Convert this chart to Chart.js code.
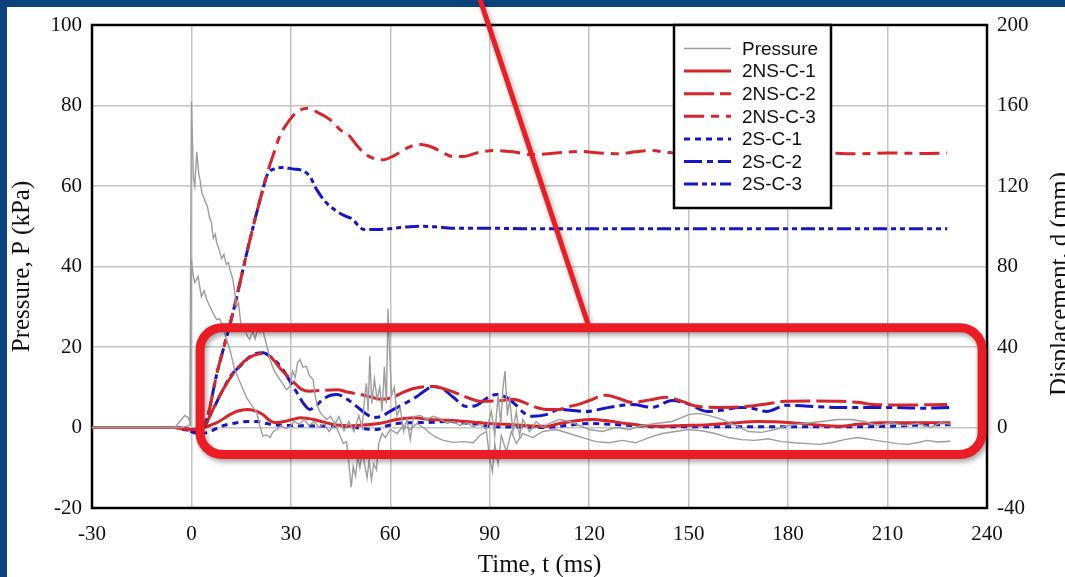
<!DOCTYPE html>
<html>
<head>
<meta charset="utf-8">
<script src="https://cdn.jsdelivr.net/npm/chart.js@4.4.1/dist/chart.umd.min.js"></script>
<style>
  html, body { margin: 0; padding: 0; background: #0a437b; overflow: hidden; }
  canvas { display: block; }
</style>
</head>
<body>
<canvas id="chart" width="1065" height="577"></canvas>
<script>
// time (ms), pressure (kPa) - two gauge traces
const pressureA = [[-30,0],[-10,0],[-3,0],[-0.5,0.5],[0,81],[0.6,62],[1,60],[1.6,68.5],[2.2,63],[2.6,61.5],[3.2,58],[3.6,57.5],[4.2,56],[4.8,55],[5.5,52],[6,51],[6.6,47],[7.2,48],[7.6,46],[8.4,44],[9.1,42],[9.8,43],[10.5,40.5],[11.2,41],[11.6,39.3],[12.5,36.8],[13,34],[13.6,30],[14.2,31],[15,25],[16,24.5],[17,22.5],[17.6,21.9],[18.5,24],[19.2,22],[20,24.5],[20.7,23.6],[21.4,25],[22,22.6],[23,19.5],[23.7,16.9],[25,14],[26.7,11.9],[27.8,10.5],[28.7,9.4],[29.7,10.2],[30.5,14],[31.3,12.5],[32,16],[32.7,16.9],[33.6,15],[34.7,15.2],[35.5,13],[36.7,11.9],[37.3,8],[38,5.3],[39,3.5],[40.8,2],[42,2.8],[43.5,0.5],[44.8,-2],[45.8,-4],[46.8,-3.5],[47.5,-9],[48.2,-14.8],[48.8,-9.7],[49.5,-12],[50.2,-7],[50.8,-10],[51.5,-6],[52.2,-9],[53,-12.5],[53.6,-8],[54.3,-13],[55,-9],[55.8,-10.5],[56.5,-4],[57.5,-1.5],[58.5,-2.5],[60,-0.5],[62,-1.5],[64,0.5],[66,-0.5],[68,1],[70,0],[72,-1.5],[74,-2.5],[76,-3.2],[79,-3.7],[82,-3.5],[85,-3.8],[87,-2],[89,-1],[90,-8],[90.8,-11],[91.5,-4],[92.5,-9],[93.5,-2],[95,-6],[96.5,-1],[98,-4],[100,-1.5],[103,-2.5],[106,-1],[110,-0.5],[114,-1.5],[118,-2.5],[122,-3.5],[126,-3.8],[130,-3.2],[134,-3.8],[138,-2.5],[142,-1.5],[146,-1],[150,-0.5],[154,-0.8],[158,-1.5],[162,-2.5],[166,-3],[170,-3.2],[174,-2.8],[178,-3.5],[182,-3.8],[186,-4],[189.6,-4.2],[193,-3.8],[197,-3],[201,-2.5],[205,-3],[209,-3.5],[213,-4],[216,-4.2],[219,-3.8],[222,-3.2],[225,-3.6],[229,-3.4]];
const pressureB = [[-30,0],[-5,0],[-3,2],[-2,3],[-1,2.5],[-0.3,1],[0,41.7],[0.5,38],[1,36],[2,37.5],[3,32.5],[3.8,34],[4.6,31.8],[5.3,30.5],[6,29.3],[6.8,28],[7.6,26.8],[8.5,27],[9.5,25.1],[10.5,22],[11.6,19.4],[12.3,17],[13,14.4],[14,12.5],[14.8,11],[15.6,9.4],[16.6,7.5],[17.6,6.2],[18.6,5],[19.7,3.7],[20.6,0.5],[21.6,-2.2],[22.6,-1.8],[23.7,-2.5],[24.7,-1],[25.8,-0.5],[27,0.5],[28.5,-0.3],[29.7,0.2],[31,1.5],[32.5,0.8],[34,2],[35.5,0.5],[37,1.5],[38.5,0],[40,1],[41.5,-1],[43,0.5],[44.5,2.7],[46,-0.8],[47.5,1.5],[49,-1],[50.5,3],[51.5,0],[52.3,8],[52.8,11],[53.3,4],[53.8,17.7],[54.4,6],[55.2,12],[56,7],[56.8,10],[57.5,4],[58.2,15],[58.8,6],[59.3,29.5],[59.8,18],[60.4,8],[61.2,10],[62,3],[63,5],[64,-1],[65,2],[66,-3],[67,2.7],[69,3],[71,2],[73,2.8],[75,2.2],[77,1],[79,1.5],[81,0.5],[83,1.2],[85,0.2],[87,0.8],[89,-0.5],[90.5,4],[91.5,-2],[92.5,8],[93.3,1],[94,10],[94.6,14],[95.3,3],[96,7],[97,-1],[98,4],[99,-2],[100,2],[102,-1],[104,1.5],[106,0],[108,1],[111,2],[114,1.5],[117,0.5],[120,-0.5],[124,-1],[128,0],[132,-0.5],[136,0.5],[140,1],[145,1.5],[150,3.2],[153,3.5],[156,3],[160,2],[164,0.5],[168,-1],[172,-1.2],[176,-0.5],[180,0.5],[185,1],[190,1.5],[195,2],[199,2],[203,1.5],[207,0.5],[211,1.2],[215,0.5],[219,1],[223,0],[226,1.2],[229,0.8]];

// time (ms), displacement (mm)
const nsc1 = [[-30,0],[-15,0],[-5,0],[0,-1],[3.5,0],[7.7,2.4],[11.6,6.4],[14,8.2],[16.7,9],[19,8.4],[21.6,6.4],[23.5,3.6],[25.5,2.4],[28,3],[30.5,4],[33,4.8],[36.7,4],[40,2.6],[44,1.2],[47.8,0.8],[52,1.2],[57.8,2.4],[62,4],[67,4.8],[72,4],[77,3.6],[83,3],[90,2],[97,1.4],[103,0.8],[107,0.6],[111,2],[116,3.4],[121,4],[126,3.2],[131,2],[136,1],[141,0.6],[148,1],[156,1.4],[163,2.2],[171,3],[176,2.8],[181,2.4],[188,1.4],[195.6,0.6],[201,1.6],[208,2.4],[218,2.4],[229,2.4]];
const nsc2 = [[-30,0],[-15,0],[-5,0],[0,-1],[3.5,0],[6.5,9],[9.5,18.8],[13,27.6],[16,33],[19,36],[21.5,36.8],[24,34.8],[27,29],[30.7,22.8],[33,19.2],[35.7,18],[39,18.4],[44,18.8],[47,17.6],[51,16.4],[54,15.2],[57.5,14],[61,15.2],[64,17.6],[67,19.4],[73,20.4],[77,18.8],[81,16.4],[84,14.4],[87,13],[92,13.2],[97,14],[101,12],[104,10],[107,9],[111,9],[114,10.4],[117,11.6],[120,13.4],[125,16],[129,14.4],[133,12.4],[138,13.6],[143,15],[148,13],[153,10.4],[160,10],[167,10.4],[173,11.6],[179,13],[187,13.2],[195.6,13],[201.6,12.4],[205.5,11.4],[215,11.2],[228,11.4]];
const nsc3 = [[-30,0],[-15,0],[-5,0],[0,-1],[3.5,0],[8,29],[12.5,57],[17.6,93],[21,115],[23,127],[25,137],[26.7,145],[29.7,153],[32,157],[35,158.6],[38,156.6],[41.8,153],[44.8,148],[47.8,144.6],[50,140],[51.7,137],[54.5,134],[57.8,133],[61,135],[66,139.6],[69,140.6],[73,139],[76,136.4],[79,134.6],[82,134.6],[86,136.4],[91,137.6],[97,137],[103,135.6],[110,136.4],[117,137.2],[123,136.4],[129,136],[134,137],[139,137.6],[144,136.6],[150,136.4],[160,136.6],[170,136.2],[180,136.8],[190,136.6],[200,136],[210,136.4],[220,136.2],[228,136.4]];
const sc1 = [[-30,0],[-15,0],[-5,0],[-1,-1.5],[2,-3],[5,-2.4],[9,0.6],[13.7,2.4],[17,3],[19.7,3],[22,2.2],[24.6,1.4],[30,1],[37.8,0.8],[42,0.8],[47.8,0.4],[52,-0.6],[56,-1],[58.5,0.6],[62,2],[67,2.4],[73,2.6],[77,3],[82,2.4],[86,1.6],[91,0.4],[99,0.2],[107,0],[113,1],[120,2],[126,1.6],[133,1],[141,0.4],[151,0.4],[161,0.4],[171,0.4],[181,0.4],[191,0.4],[201,0.4],[210,0.6],[220,1.2],[229,1.4]];
const sc2 = [[-30,0],[-15,0],[-5,0],[0,-1.5],[3.5,0],[6.5,9],[9.5,18.8],[12,26],[14.6,30.4],[17.5,35],[19.5,36.8],[21.6,37.2],[24,35],[27.6,28.8],[29.7,23],[31.8,17.4],[33.8,12],[35.7,9],[37.7,11],[39.7,14],[42,16],[43.9,16.4],[47,14],[49.9,10.4],[52.5,7],[54.8,5],[57.5,5.6],[59.9,8],[64,11.6],[68,15.4],[70.5,18.4],[72.9,20.4],[76,19],[79,15],[83,10.4],[86,11],[89,14.4],[92,16.4],[95,15],[98,11],[100.5,7],[103,5.6],[107,6.4],[111,9],[115,8.4],[119,8],[126,10],[133,11.4],[139,10],[145,13.4],[150,11.6],[155.5,8],[160,8.6],[165.5,10],[169,9.6],[173.5,8],[179.5,11],[186,10.6],[194,10],[201.6,10],[210,10],[220,9.6],[229,10]];
const sc3 = [[-30,0],[-15,0],[-5,0],[0,-1.5],[3.5,0],[8,29],[12.5,57],[17.6,93],[21,115],[23,126],[25,128.5],[27.6,129.2],[30.5,128.5],[33.6,127.6],[35.7,124.8],[37.8,118.2],[40.5,112],[43.9,107.4],[46.5,105],[48.7,103.4],[50.5,100],[52,98.4],[55,98.4],[59,98.6],[63,99.4],[66,99.8],[70,100],[75,99.5],[80,99],[90,99],[100,98.8],[120,98.8],[140,98.8],[160,98.8],[180,98.8],[200,98.8],[228,98.8]];

const timeTicks = [-30, 0, 30, 60, 90, 120, 150, 180, 210, 240];
const pressureTicks = [-20, 0, 20, 40, 60, 80, 100];
const dispTicks = [-40, 0, 40, 80, 120, 160, 200];

// highlight box and pointer, in data units (ms, kPa)
const boxRange = { t0: 2.6, t1: 238.5, p0: -6.7, p1: 24.8 };
const pointerFrom = { t: 87, p: 106.5 };

const RED = "#d7262b";
const BLUE = "#1616c8";
const GREY = "#9d9d9d";
const serif = "'Liberation Serif', 'Times New Roman', serif";
const sans = "'Liberation Sans', Arial, sans-serif";

const toXY = a => a.map(([x, y]) => ({ x: x, y: y }));

function lineSet(label, arr, color, dash, axis, width) {
    return {
        label: label,
        data: toXY(arr),
        borderColor: color,
        borderWidth: width,
        borderDash: dash,
        yAxisID: axis,
        pointRadius: 0,
        fill: false,
        cubicInterpolationMode: axis === "y1" ? "monotone" : "default",
        tension: 0
    };
}

const datasets = [
    lineSet("Pressure", pressureA, GREY, [], "y", 1.4),
    Object.assign(lineSet("Pressure", pressureB, GREY, [], "y", 1.4), { hideInLegend: true }),
    lineSet("2NS-C-1", nsc1, RED, [], "y1", 3),
    lineSet("2NS-C-2", nsc2, RED, [30, 6], "y1", 3),
    lineSet("2NS-C-3", nsc3, RED, [20, 7, 8, 7], "y1", 3),
    lineSet("2S-C-1", sc1, BLUE, [6, 5], "y1", 3),
    lineSet("2S-C-2", sc2, BLUE, [18, 5, 6, 5], "y1", 3),
    lineSet("2S-C-3", sc3, BLUE, [14, 4, 5, 4, 5, 4], "y1", 3)
];

const decor = {
    id: "decor",
    beforeDraw(chart) {
        const ctx = chart.ctx;
        ctx.save();
        ctx.fillStyle = "#0a437b";
        ctx.fillRect(0, 0, chart.width, chart.height);
        ctx.fillStyle = "#ffffff";
        ctx.fillRect(7, 7, chart.width - 7, chart.height - 7);
        ctx.restore();
    },
    beforeDatasetsDraw(chart) {
        const a = chart.chartArea;
        const ctx = chart.ctx;
        ctx.save();
        ctx.strokeStyle = "#000";
        ctx.lineWidth = 2.5;
        ctx.strokeRect(a.left, a.top, a.right - a.left, a.bottom - a.top);
        ctx.restore();
    },
    afterDraw(chart) {
        const ctx = chart.ctx;
        const sx = chart.scales.x, sy = chart.scales.y;

        // legend
        const lx = 674, ly = 25, lw = 157, lh = 183;
        ctx.save();
        ctx.fillStyle = "#fff";
        ctx.fillRect(lx, ly, lw, lh);
        ctx.strokeStyle = "#000";
        ctx.lineWidth = 2.5;
        ctx.strokeRect(lx, ly, lw, lh);
        ctx.font = "19px " + sans;
        ctx.textBaseline = "middle";
        let row = 0;
        chart.data.datasets.forEach(ds => {
            if (ds.hideInLegend) return;
            const y = 48.5 + row * 22.6;
            ctx.beginPath();
            ctx.strokeStyle = ds.borderColor;
            ctx.lineWidth = ds.borderWidth;
            ctx.setLineDash(ds.borderDash);
            ctx.moveTo(684, y);
            ctx.lineTo(731, y);
            ctx.stroke();
            ctx.setLineDash([]);
            ctx.fillStyle = "#111";
            ctx.fillText(ds.label, 742, y + 1);
            row++;
        });
        ctx.restore();

        // right axis title (cut by the page edge, as in the source figure)
        ctx.save();
        ctx.translate(1060, 284);
        ctx.rotate(-Math.PI / 2);
        ctx.font = "25px " + serif;
        ctx.fillStyle = "#111";
        ctx.textAlign = "center";
        ctx.textBaseline = "middle";
        ctx.fillText("Displacement, d (mm)", 0, 0);
        ctx.restore();

        // highlight box + pointer
        const bx0 = sx.getPixelForValue(boxRange.t0), bx1 = sx.getPixelForValue(boxRange.t1);
        const by0 = sy.getPixelForValue(boxRange.p1), by1 = sy.getPixelForValue(boxRange.p0);
        ctx.save();
        ctx.strokeStyle = "#ec1c24";
        ctx.shadowColor = "rgba(0,0,0,0.35)";
        ctx.shadowBlur = 5;
        ctx.shadowOffsetX = 2;
        ctx.shadowOffsetY = 3;
        ctx.lineWidth = 5;
        ctx.beginPath();
        ctx.moveTo(sx.getPixelForValue(pointerFrom.t), sy.getPixelForValue(pointerFrom.p));
        ctx.lineTo(sx.getPixelForValue(120), by0);
        ctx.stroke();
        ctx.lineWidth = 9;
        ctx.beginPath();
        ctx.roundRect(bx0, by0, bx1 - bx0, by1 - by0, 22);
        ctx.stroke();
        ctx.restore();
    }
};

const tickFont = { family: serif, size: 21 };
const titleFont = { family: serif, size: 25 };
const gridStyle = { color: "#c4c4c4", lineWidth: 1.5, drawTicks: false };

new Chart(document.getElementById("chart"), {
    type: "line",
    data: { datasets: datasets },
    options: {
        responsive: false,
        animation: false,
        devicePixelRatio: 1,
        layout: { padding: { left: 7, top: 25, right: 0, bottom: 0 } },
        plugins: { legend: { display: false }, tooltip: { enabled: false } },
        scales: {
            x: {
                type: "linear",
                min: -30, max: 240,
                afterBuildTicks: s => { s.ticks = timeTicks.map(v => ({ value: v })); },
                afterFit: s => { s.height = 69; },
                ticks: { font: tickFont, color: "#111", padding: 14, maxRotation: 0 },
                grid: gridStyle,
                border: { display: false },
                title: { display: true, text: "Time, t (ms)", font: titleFont, color: "#111", padding: { top: 0, bottom: -3 } }
            },
            y: {
                min: -20, max: 100,
                afterBuildTicks: s => { s.ticks = pressureTicks.map(v => ({ value: v })); },
                afterFit: s => { s.width = 85; },
                ticks: { font: tickFont, color: "#111", padding: 10 },
                grid: gridStyle,
                border: { display: false },
                title: { display: true, text: "Pressure, P (kPa)", font: titleFont, color: "#111", padding: { top: 0, bottom: 0 } }
            },
            y1: {
                position: "right",
                min: -40, max: 200,
                afterBuildTicks: s => { s.ticks = dispTicks.map(v => ({ value: v })); },
                afterFit: s => { s.width = 78; },
                ticks: { font: tickFont, color: "#111", padding: 10 },
                grid: { drawOnChartArea: false, drawTicks: false },
                border: { display: false }
            }
        }
    },
    plugins: [decor]
});
</script>
</body>
</html>
